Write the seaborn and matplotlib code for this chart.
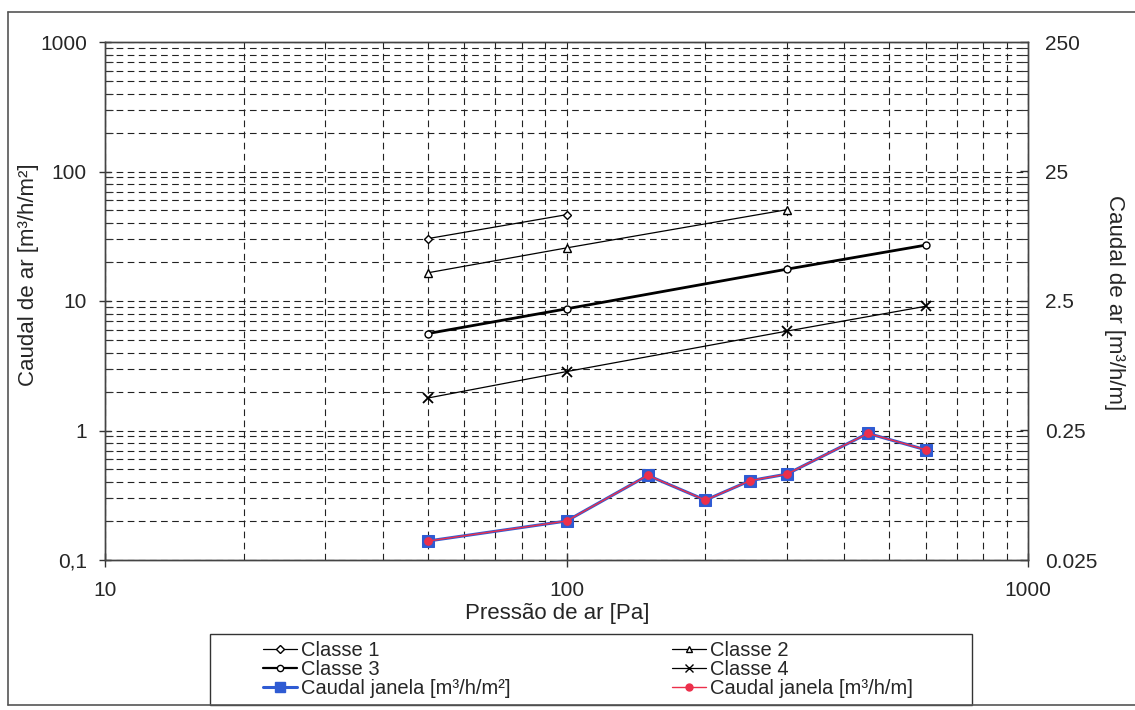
import seaborn as sns
import matplotlib.pyplot as plt
from matplotlib.ticker import FixedLocator, FixedFormatter, NullFormatter, LogLocator
from matplotlib.lines import Line2D
from matplotlib.patches import Rectangle

# values
pressure_c1 = [50, 100]
classe1 = [30.3, 46.4]
pressure_c2 = [50, 100, 300]
classe2 = [16.5, 25.7, 50.7]
pressure_c34 = [50, 100, 300, 600]
classe3 = [5.6, 8.7, 17.6, 27.0]
classe4 = [1.78, 2.85, 5.85, 9.1]

pressure_janela = [50, 100, 150, 200, 250, 300, 450, 600]
janela_m2 = [0.14, 0.20, 0.45, 0.29, 0.41, 0.46, 0.95, 0.71]
janela_m = [0.035, 0.05, 0.1125, 0.0725, 0.1025, 0.115, 0.2375, 0.1775]

x_ticks = [10, 100, 1000]
x_tick_labels = ['10', '100', '1000']
y_ticks = [0.1, 1, 10, 100, 1000]
y_tick_labels = ['0,1', '1', '10', '100', '1000']
y2_ticks = [0.025, 0.25, 2.5, 25, 250]
y2_tick_labels = ['0.025', '0.25', '2.5', '25', '250']

legend_labels = ['Classe 1', 'Classe 3', 'Caudal janela [m³/h/m²]',
                 'Classe 2', 'Classe 4', 'Caudal janela [m³/h/m]']

BLUE = '#2f5bd3'
RED = '#ec2f4b'

sns.set_theme(style='white')
plt.rcParams['font.family'] = ['Liberation Sans', 'DejaVu Sans']

W, H = 1135, 710
fig = plt.figure(figsize=(W / 100, H / 100), dpi=100)
ax = fig.add_axes([105 / W, 1 - 560 / H, 923 / W, 518 / H])

# class reference lines
thin = dict(color='black', linewidth=0.9, markerfacecolor='white',
            markeredgecolor='black', markeredgewidth=1.0, errorbar=None)
sns.lineplot(x=pressure_c1, y=classe1, ax=ax, marker='D', markersize=4.5, **thin)
sns.lineplot(x=pressure_c2, y=classe2, ax=ax, marker='^', markersize=6, **thin)
sns.lineplot(x=pressure_c34, y=classe3, ax=ax, marker='o', markersize=5,
             color='black', linewidth=2.0, markerfacecolor='white',
             markeredgecolor='black', markeredgewidth=1.0, errorbar=None)
sns.lineplot(x=pressure_c34, y=classe4, ax=ax, marker='x', markersize=7,
             color='black', linewidth=0.9, markeredgecolor='black',
             markeredgewidth=1.3, errorbar=None)

# window measurements
sns.lineplot(x=pressure_janela, y=janela_m2, ax=ax, marker='s', markersize=8,
             color=BLUE, linewidth=2.2, markerfacecolor=BLUE,
             markeredgecolor=BLUE, errorbar=None)

ax.set_xscale('log')
ax.set_yscale('log')
ax.set_xlim(10, 1000)
ax.set_ylim(0.1, 1000)

ax.xaxis.set_major_locator(FixedLocator(x_ticks))
ax.xaxis.set_major_formatter(FixedFormatter(x_tick_labels))
ax.xaxis.set_minor_locator(LogLocator(base=10, subs=range(2, 10)))
ax.xaxis.set_minor_formatter(NullFormatter())
ax.yaxis.set_major_locator(FixedLocator(y_ticks))
ax.yaxis.set_major_formatter(FixedFormatter(y_tick_labels))
ax.yaxis.set_minor_locator(LogLocator(base=10, subs=range(2, 10)))
ax.yaxis.set_minor_formatter(NullFormatter())

ax.grid(True, which='both', color='#222222', linestyle=(0, (6, 4)), linewidth=0.8)
ax.set_axisbelow(True)

ax.tick_params(axis='y', which='major', direction='inout', length=8, width=1,
               color='#333333', labelsize=15, pad=9, left=True)
ax.tick_params(axis='y', which='minor', direction='in', length=6, width=0.8,
               color='#333333', left=True)
ax.tick_params(axis='x', which='major', direction='inout', length=10, width=1,
               color='#333333', labelsize=15, pad=10, bottom=True)
ax.tick_params(axis='x', which='minor', length=0)
for s in ax.spines.values():
    s.set_color('#444444')
    s.set_linewidth(1.0)

ax.set_xlabel('Pressão de ar [Pa]', fontsize=16)
ax.xaxis.set_label_coords(0.49, (560 - 603) / 518)
ax.set_ylabel('Caudal de ar [m³/h/m²]', fontsize=16, va='center')
ax.yaxis.set_label_coords((29 - 105) / 923, (560 - 275) / 518)

# secondary axis, per metre of joint
ax2 = ax.twinx()
sns.lineplot(x=pressure_janela, y=janela_m, ax=ax2, marker='o', markersize=5.5,
             color=RED, linewidth=1.0, markerfacecolor=RED,
             markeredgecolor=RED, errorbar=None)
ax2.set_yscale('log')
ax2.set_ylim(0.025, 250)
ax2.set_xlim(10, 1000)
ax2.yaxis.set_major_locator(FixedLocator(y2_ticks))
ax2.yaxis.set_major_formatter(FixedFormatter(y2_tick_labels))
ax2.yaxis.set_minor_locator(FixedLocator([m * t / 10 for t in y2_ticks for m in range(2, 10)]))
ax2.yaxis.set_minor_formatter(NullFormatter())
ax2.tick_params(axis='y', which='major', direction='in', length=6, width=1,
                color='#333333', labelsize=15, pad=12, right=True)
ax2.tick_params(axis='y', which='minor', direction='in', length=5, width=0.8,
                color='#333333', right=True)
ax2.grid(False)
for s in ax2.spines.values():
    s.set_color('#444444')
    s.set_linewidth(1.0)
ax2.set_ylabel('Caudal de ar [m³/h/m]', fontsize=16, rotation=270, va='center')
ax2.yaxis.set_label_coords((1114 - 105) / 923, (560 - 303) / 518)

# legend below the chart
handles = [
    Line2D([], [], color='black', lw=0.9, marker='D', ms=4, mfc='white', mec='black'),
    Line2D([], [], color='black', lw=1.6, marker='o', ms=4.5, mfc='white', mec='black'),
    Line2D([], [], color=BLUE, lw=2.2, marker='s', ms=7, mfc=BLUE, mec=BLUE),
    Line2D([], [], color='black', lw=0.9, marker='^', ms=5, mfc='white', mec='black'),
    Line2D([], [], color='black', lw=0.9, marker='x', ms=6, mec='black'),
    Line2D([], [], color=RED, lw=1.0, marker='o', ms=5, mfc=RED, mec=RED),
]
fig.legend(handles, legend_labels, ncol=2, mode='expand', loc='center',
           bbox_to_anchor=(263 / W, 1 - 705 / H, (913 - 263) / W, (705 - 634) / H),
           frameon=False, fontsize=14.5, handlelength=1.7, handletextpad=0.2,
           labelspacing=0.0, borderpad=0, borderaxespad=0)
fig.add_artist(Rectangle((210 / W, 1 - 705 / H), (972 - 210) / W, (705 - 634) / H,
                         transform=fig.transFigure, fill=False,
                         edgecolor='#333333', linewidth=1.0))

# outer chart frame
fig.add_artist(Line2D([8 / W, 8 / W], [1 - 12 / H, 1 - 705 / H], transform=fig.transFigure,
                      color='#555555', lw=1.2))
fig.add_artist(Line2D([8 / W, 1.0], [1 - 12 / H, 1 - 12 / H], transform=fig.transFigure,
                      color='#555555', lw=1.2))
fig.add_artist(Line2D([8 / W, 1.0], [1 - 705 / H, 1 - 705 / H], transform=fig.transFigure,
                      color='#555555', lw=1.2))

fig.savefig('out.png', dpi=100)
